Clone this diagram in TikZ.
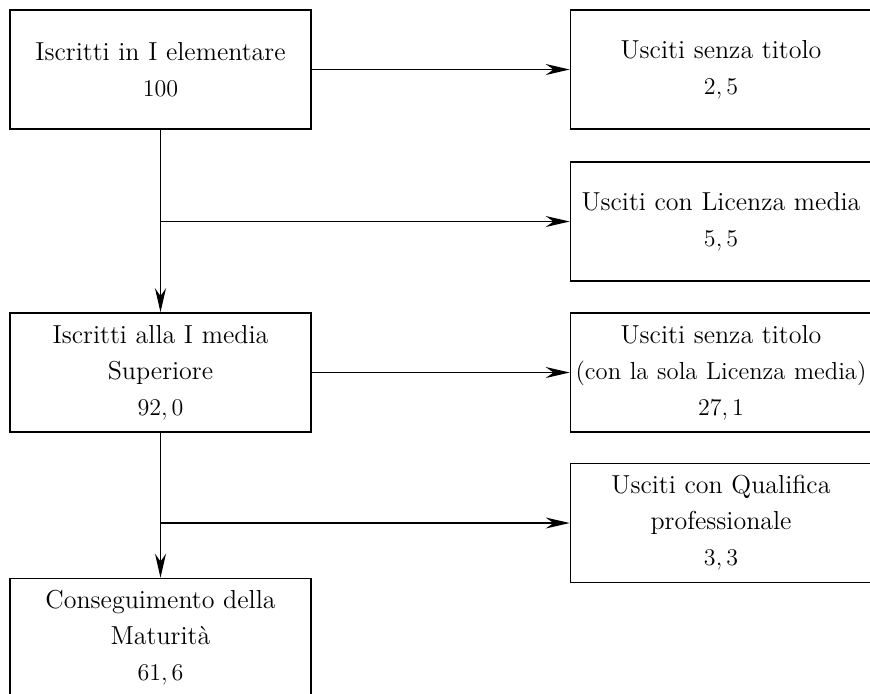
\documentclass[tikz,border=0pt]{standalone}
\usepackage{amsmath,amssymb}
\usepackage{tikz}
\usetikzlibrary{arrows.meta,positioning}

\begin{document}
\begin{tikzpicture}[x=0.5pt, y=-0.5pt,
        box/.style={draw, line width=0.8pt, rectangle, inner xsep=1.25pt, inner ysep=0pt,
            text width=148pt, minimum height=59.5pt, align=center,
            font=\fontsize{13}{18}\selectfont},
        flow/.style={-{Stealth[length=12pt, width=5.5pt]}, line width=0.7pt}]
        \useasboundingbox (0, 0) rectangle (870, 693);

        \node (elem) [box] at (160.5, 69.5) {Iscritti in I elementare\\ $100$};
        \node (media) [box] at (160.5, 372.5) {Iscritti alla I media\\ Superiore\\ $92,0$};
        \node (matur) [box] at (160.5, 638) {Conseguimento della\\ Maturit\`a\\ $61,6$};

        \node (out1) [box] at (721, 69.5) {Usciti senza titolo\\ $2,5$};
        \node (out2) [box] at (721, 221.5) {Usciti con Licenza media\\ $5,5$};
        \node (out3) [box] at (721, 372.5) {Usciti senza titolo\\ {\fontsize{12.3}{18}\selectfont (con la sola Licenza media)}\\ $27,1$};
        \node (out4) [box] at (721, 523) {Usciti con Qualifica\\ professionale\\ $3,3$};

        \coordinate (split1) at (elem |- out2);
        \coordinate (split2) at (media |- out4);

        \draw[flow] (elem) -- (media);
        \draw[flow] (media) -- (matur);
        \draw[flow] (elem) -- (out1);
        \draw[flow] (split1) -- (out2);
        \draw[flow] (media) -- (out3);
        \draw[flow] (split2) -- (out4);
    \end{tikzpicture}
\end{document}
